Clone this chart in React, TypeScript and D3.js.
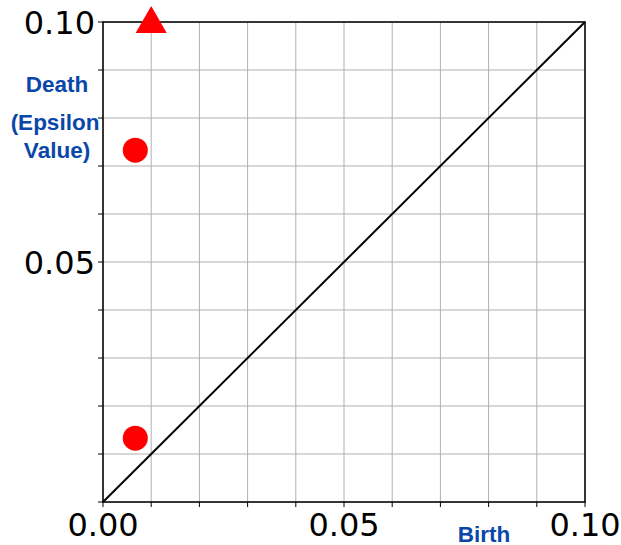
import * as d3 from 'd3';

const gridTicks = [0, 0.01, 0.02, 0.03, 0.04, 0.05, 0.06, 0.07, 0.08, 0.09, 0.1];
const labelTicks = [0, 0.05, 0.1];
const finiteBirth = [0.0067, 0.0067];
const finiteDeath = [0.0733, 0.0133];
const infiniteBirth = [0.01];

export default function App() {
  const width = 621;
  const height = 545;
  const left = 103, right = 585, top = 22, bottom = 502;

  const x = d3.scaleLinear().domain([0, 0.1]).range([left, right]);
  const y = d3.scaleLinear().domain([0, 0.1]).range([bottom, top]);
  const tri = d3.symbol().type(d3.symbolTriangle).size(420)();
  const blue = '#0a47a9';
  const tickFont = "'DejaVu Sans', sans-serif";
  const labelFont = "'Liberation Sans', Arial, sans-serif";

  return (
    <svg width={width} height={height} style={{ position: 'absolute', left: 0, top: 0 }}>
      <rect width={width} height={height} fill="#fff" />
      {/* grid */}
      {gridTicks.map((t, i) => (
        <g key={i}>
          <line x1={x(t)} x2={x(t)} y1={top} y2={bottom} stroke="#b0b0b0" strokeWidth={1} />
          <line x1={left} x2={right} y1={y(t)} y2={y(t)} stroke="#b0b0b0" strokeWidth={1} />
          <line x1={x(t)} x2={x(t)} y1={bottom} y2={bottom + 5} stroke="#000" strokeWidth={1} />
          <line x1={left - 5} x2={left} y1={y(t)} y2={y(t)} stroke="#000" strokeWidth={1} />
        </g>
      ))}
      {/* frame */}
      <rect x={left} y={top} width={right - left} height={bottom - top} fill="none" stroke="#000" strokeWidth={1.5} />
      {/* diagonal */}
      <line x1={x(0)} y1={y(0)} x2={x(0.1)} y2={y(0.1)} stroke="#000" strokeWidth={2} />
      {/* tick labels */}
      {labelTicks.map((t, i) => (
        <text key={'x' + i} x={x(t)} y={536} textAnchor="middle" fontFamily={tickFont} fontSize={32} fill="#000">
          {t.toFixed(2)}
        </text>
      ))}
      {labelTicks.filter(t => t > 0).map((t, i) => (
        <text key={'y' + i} x={left - 8} y={y(t)} dy="0.36em" textAnchor="end" fontFamily={tickFont} fontSize={32} fill="#000">
          {t.toFixed(2)}
        </text>
      ))}
      {/* points */}
      {finiteBirth.map((b, i) => (
        <circle key={i} cx={x(b)} cy={y(finiteDeath[i])} r={12.5} fill="#ff0000" />
      ))}
      {infiniteBirth.map((b, i) => (
        <path key={i} d={tri ?? ''} transform={`translate(${x(b)},${y(0.1) + 2})`} fill="#ff0000" />
      ))}
      {/* axis labels */}
      <g fontFamily={labelFont} fontWeight="bold" fontSize={22.5} fill={blue} textAnchor="middle">
        <text x={57} y={92}>Death</text>
        <text x={55} y={130}>(Epsilon</text>
        <text x={57} y={158}>Value)</text>
        <text x={484} y={542}>Birth</text>
      </g>
    </svg>
  );
}
